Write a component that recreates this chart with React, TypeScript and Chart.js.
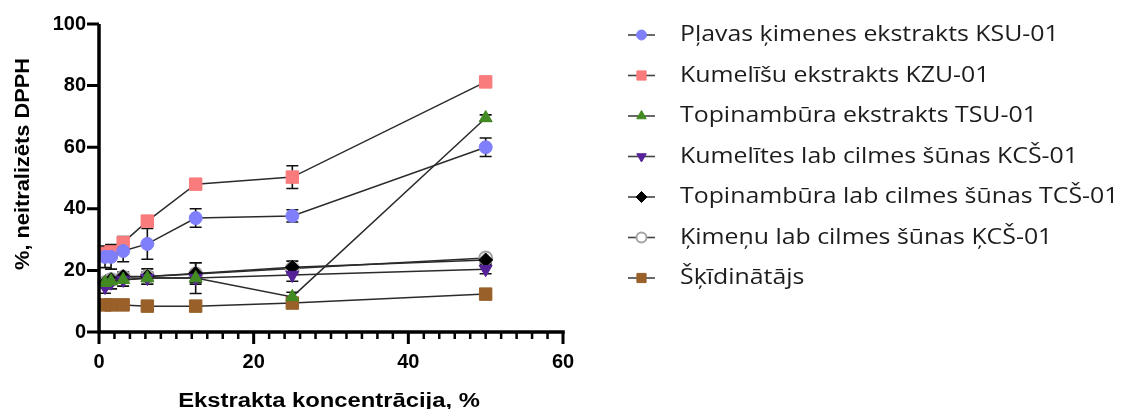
import React, { useEffect, useRef } from 'react';
import { Chart, registerables } from 'chart.js';
import { drawPoint } from 'chart.js/helpers';

Chart.register(...registerables);

// Extract concentration, % (serial two-fold dilutions)
const concentrations = [0.78, 1.56, 3.125, 6.25, 12.5, 25, 50];

const seriesNames = [
  'Pļavas ķimenes ekstrakts KSU-01',
  'Kumelīšu ekstrakts KZU-01',
  'Topinambūra ekstrakts TSU-01',
  'Kumelītes lab cilmes šūnas KCŠ-01',
  'Topinambūra lab cilmes šūnas TCŠ-01',
  'Ķimeņu lab cilmes šūnas ĶCŠ-01',
  'Šķīdinātājs',
];

// DPPH neutralised, % (mean) and standard deviation
const ksuMean = [24.4, 24.4, 26.3, 28.6, 37.0, 37.7, 60.0];
const ksuSd = [3.5, 4.0, 3.5, 5.0, 3.0, 2.0, 3.0];
const kzuMean = [25.5, 26.0, 29.0, 36.0, 48.0, 50.3, 81.2];
const kzuSd = [2.0, 2.0, 2.0, 1.0, 1.0, 3.7, 1.0];
const tsuMean = [16.0, 16.5, 17.0, 17.5, 17.5, 11.4, 69.5];
const tsuSd = [1.0, 1.0, 1.0, 1.0, 5.0, 1.5, 1.0];
const kcsMean = [14.6, 16.0, 16.9, 17.5, 17.5, 18.5, 20.4];
const kcsSd = [2.0, 2.0, 2.0, 2.0, 1.5, 2.0, 1.5];
const tcsMean = [16.0, 17.0, 18.0, 18.0, 19.0, 21.0, 23.4];
const tcsSd = [1.5, 1.5, 1.5, 2.5, 3.5, 2.0, 1.0];
const kmcsMean = [16.0, 17.0, 17.8, 18.0, 18.8, 20.6, 24.0];
const kmcsSd = [1.0, 1.0, 1.0, 1.0, 1.0, 1.0, 1.0];
const solventMean = [8.8, 8.8, 8.8, 8.4, 8.4, 9.4, 12.3];
const solventSd = [1.0, 1.0, 1.0, 1.0, 1.0, 1.0, 1.0];

const yTicks = [0, 20, 40, 60, 80, 100];
const xTicks = [0, 20, 40, 60];
const xMinorStep = 2;

const xTitle = 'Ekstrakta koncentrācija, %';
const yTitle = '%, neitralizēts DPPH';

const means = [ksuMean, kzuMean, tsuMean, kcsMean, tcsMean, kmcsMean, solventMean];
const sds = [ksuSd, kzuSd, tsuSd, kcsSd, tcsSd, kmcsSd, solventSd];

type MarkerStyle = {
  pointStyle: string;
  rotation: number;
  radius: number;
  legendRadius: number;
  fill: string;
  stroke: string;
  strokeWidth: number;
};

const markers: MarkerStyle[] = [
  { pointStyle: 'circle', rotation: 0, radius: 6.5, legendRadius: 5, fill: '#7f7ffb', stroke: '#7f7ffb', strokeWidth: 1 },
  { pointStyle: 'rect', rotation: 0, radius: 8.8, legendRadius: 6.5, fill: '#f97b7b', stroke: '#f97b7b', strokeWidth: 1 },
  { pointStyle: 'triangle', rotation: 0, radius: 7.5, legendRadius: 5.5, fill: '#428a22', stroke: '#428a22', strokeWidth: 1 },
  { pointStyle: 'triangle', rotation: 180, radius: 7.5, legendRadius: 5.5, fill: '#55229a', stroke: '#55229a', strokeWidth: 1 },
  { pointStyle: 'rectRot', rotation: 0, radius: 7, legendRadius: 5.5, fill: '#000000', stroke: '#000000', strokeWidth: 1 },
  { pointStyle: 'circle', rotation: 0, radius: 6.5, legendRadius: 5, fill: '#ffffff', stroke: '#a3a3a3', strokeWidth: 2 },
  { pointStyle: 'rect', rotation: 0, radius: 8.8, legendRadius: 6.5, fill: '#99602a', stroke: '#99602a', strokeWidth: 1 },
];

const lineColor = '#2b2b2b';

const errorBarsPlugin = {
  id: 'errorBars',
  beforeDatasetsDraw(chart: any) {
    const { ctx } = chart;
    const x = chart.scales.x;
    const y = chart.scales.y;
    ctx.save();
    ctx.strokeStyle = '#111';
    ctx.lineWidth = 1.6;
    sds.forEach((sd, i) => {
      means[i].forEach((m, j) => {
        const px = x.getPixelForValue(concentrations[j]);
        const top = y.getPixelForValue(m + sd[j]);
        const bot = y.getPixelForValue(m - sd[j]);
        ctx.beginPath();
        ctx.moveTo(px, top);
        ctx.lineTo(px, bot);
        ctx.moveTo(px - 6, top);
        ctx.lineTo(px + 6, top);
        ctx.moveTo(px - 6, bot);
        ctx.lineTo(px + 6, bot);
        ctx.stroke();
      });
    });
    ctx.restore();
  },
};

// Axis lines with major and minor tick marks
const axesPlugin = {
  id: 'axesFrame',
  afterDatasetsDraw(chart: any) {
    const { ctx, chartArea } = chart;
    const x = chart.scales.x;
    const y = chart.scales.y;
    const { left, right, top, bottom } = chartArea;
    ctx.save();
    ctx.strokeStyle = '#000';
    ctx.lineCap = 'butt';
    ctx.lineWidth = 3.5;
    ctx.beginPath();
    ctx.moveTo(left, top);
    ctx.lineTo(left, bottom + 1.75);
    ctx.moveTo(left - 1.75, bottom);
    ctx.lineTo(right + 1.75, bottom);
    ctx.stroke();

    ctx.lineWidth = 3;
    ctx.beginPath();
    yTicks.forEach((v) => {
      const py = y.getPixelForValue(v);
      ctx.moveTo(left - 12, py);
      ctx.lineTo(left, py);
    });
    xTicks.forEach((v) => {
      const px = x.getPixelForValue(v);
      ctx.moveTo(px, bottom);
      ctx.lineTo(px, bottom + 12);
    });
    ctx.stroke();

    ctx.lineWidth = 2.5;
    ctx.beginPath();
    for (let v = x.min + xMinorStep; v < x.max; v += xMinorStep) {
      if (xTicks.includes(v)) continue;
      const px = x.getPixelForValue(v);
      ctx.moveTo(px, bottom);
      ctx.lineTo(px, bottom + 7);
    }
    ctx.stroke();
    ctx.restore();
  },
};

const axisTitlesPlugin = {
  id: 'axisTitles',
  afterDraw(chart: any) {
    const { ctx, chartArea } = chart;
    ctx.save();
    ctx.fillStyle = '#000';
    ctx.font = 'bold 20px "Liberation Sans", Arial, sans-serif';
    ctx.textAlign = 'center';
    ctx.textBaseline = 'alphabetic';
    // x-axis title, slightly widened
    ctx.save();
    ctx.translate((chartArea.left + chartArea.right) / 2 - 2, 407);
    ctx.scale(1.19, 1);
    ctx.fillText(xTitle, 0, 0);
    ctx.restore();
    // y-axis title, rotated
    ctx.save();
    ctx.translate(29, 164);
    ctx.rotate(-Math.PI / 2);
    ctx.scale(1.09, 1);
    ctx.fillText(yTitle, 0, 0);
    ctx.restore();
    ctx.restore();
  },
};

const legendPlugin = {
  id: 'sideLegend',
  afterDraw(chart: any) {
    const { ctx } = chart;
    ctx.save();
    seriesNames.forEach((name, i) => {
      const cy = 35 + i * 40.5;
      ctx.strokeStyle = '#444';
      ctx.lineWidth = 1.6;
      ctx.beginPath();
      ctx.moveTo(628, cy);
      ctx.lineTo(655, cy);
      ctx.stroke();
      const mk = markers[i];
      ctx.fillStyle = mk.fill;
      ctx.strokeStyle = mk.stroke;
      ctx.lineWidth = mk.strokeWidth;
      drawPoint(ctx, { pointStyle: mk.pointStyle as any, rotation: mk.rotation, radius: mk.legendRadius, borderWidth: mk.strokeWidth }, 641.5, cy);
      ctx.save();
      ctx.translate(680, cy);
      ctx.scale(1.13, 1);
      ctx.fillStyle = '#1c1c1c';
      ctx.font = '22px "Open Sans", "Noto Sans", sans-serif';
      ctx.textAlign = 'left';
      ctx.textBaseline = 'middle';
      ctx.fillText(name, 0, 0);
      ctx.restore();
    });
    ctx.restore();
  },
};

export default function App() {
  const canvasRef = useRef<HTMLCanvasElement>(null);

  useEffect(() => {
    if (!canvasRef.current) return;
    const datasets = seriesNames.map((name, i) => ({
      label: name,
      data: concentrations.map((c, j) => ({ x: c, y: means[i][j] })),
      showLine: true,
      borderColor: lineColor,
      borderWidth: 1.5,
      pointStyle: markers[i].pointStyle,
      rotation: markers[i].rotation,
      pointRadius: markers[i].radius,
      pointBackgroundColor: markers[i].fill,
      pointBorderColor: markers[i].stroke,
      pointBorderWidth: markers[i].strokeWidth,
      clip: false as any,
    }));

    const tickFont = { family: '"Liberation Sans", Arial, sans-serif', size: 20, weight: 'bold' as const };

    const chart = new Chart(canvasRef.current, {
      type: 'scatter',
      data: { datasets },
      options: {
        animation: false,
        responsive: true,
        maintainAspectRatio: false,
        layout: { padding: { left: 0, top: 24, right: 577, bottom: 0 } },
        plugins: {
          legend: { display: false },
          tooltip: { enabled: false },
        },
        scales: {
          x: {
            type: 'linear',
            min: 0,
            max: 60,
            afterBuildTicks: (s: any) => {
              s.ticks = xTicks.map((v) => ({ value: v }));
            },
            afterFit: (s: any) => {
              s.height = 77;
            },
            border: { display: false },
            grid: { display: true, drawOnChartArea: false, drawTicks: true, tickLength: 12, color: 'rgba(0,0,0,0)' },
            ticks: { color: '#000', font: tickFont, padding: 6, maxRotation: 0 },
          },
          y: {
            type: 'linear',
            min: 0,
            max: 100,
            afterBuildTicks: (s: any) => {
              s.ticks = yTicks.map((v) => ({ value: v }));
            },
            afterFit: (s: any) => {
              s.width = 99;
            },
            border: { display: false },
            grid: { display: true, drawOnChartArea: false, drawTicks: true, tickLength: 12, color: 'rgba(0,0,0,0)' },
            ticks: { color: '#000', font: tickFont, padding: 1 },
          },
        },
      },
      plugins: [errorBarsPlugin, axesPlugin, axisTitlesPlugin, legendPlugin],
    } as any);

    return () => chart.destroy();
  }, []);

  return (
    <div style={{ position: 'fixed', left: 0, top: 0, width: 1140, height: 409, background: '#fff' }}>
      <canvas ref={canvasRef} />
    </div>
  );
}
